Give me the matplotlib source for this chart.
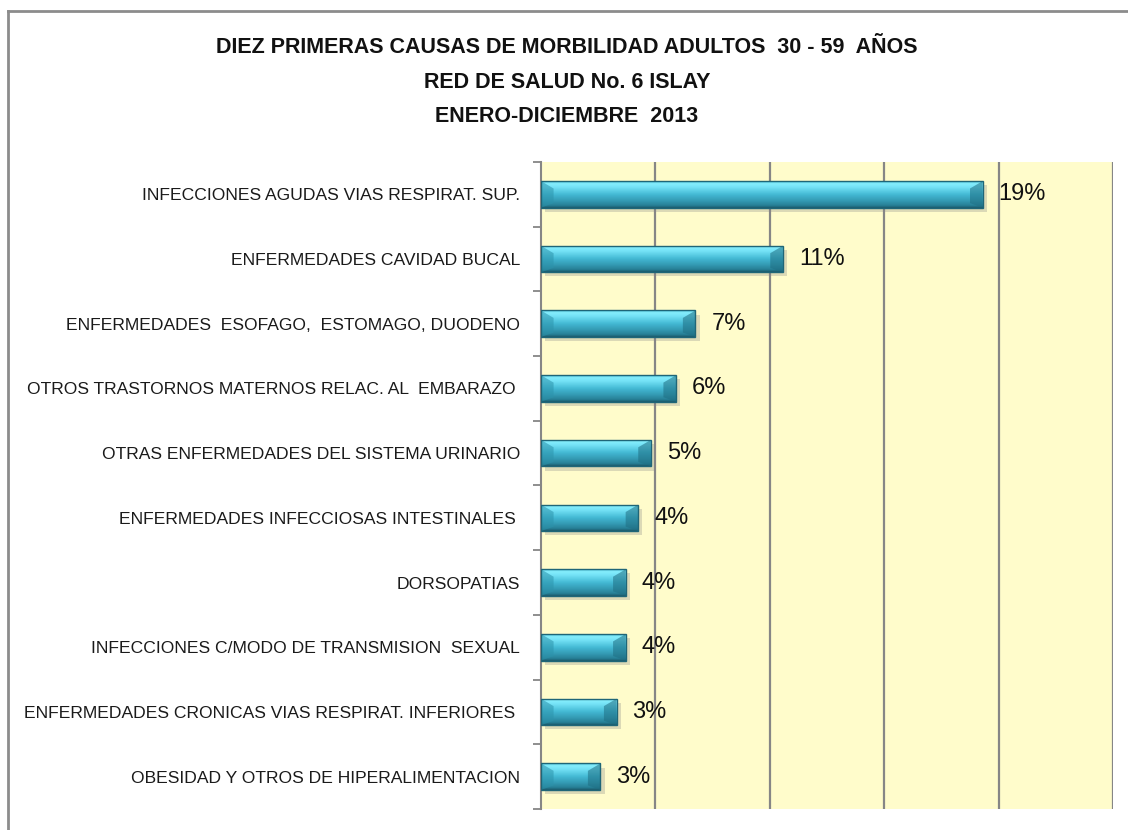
import numpy as np
import matplotlib
matplotlib.use('Agg')
import matplotlib.pyplot as plt
from matplotlib.patches import Rectangle, Polygon
from matplotlib.colors import LinearSegmentedColormap
import matplotlib.patheffects as pe

plt.rcParams['font.family'] = ['Liberation Sans', 'DejaVu Sans']

#==============================================================================
#                         Data
#==============================================================================
title = ('DIEZ PRIMERAS CAUSAS DE MORBILIDAD ADULTOS  30 - 59  AÑOS\n'
         'RED DE SALUD No. 6 ISLAY\n'
         'ENERO-DICIEMBRE  2013')

causas = ['INFECCIONES AGUDAS VIAS RESPIRAT. SUP.',
          'ENFERMEDADES CAVIDAD BUCAL',
          'ENFERMEDADES  ESOFAGO,  ESTOMAGO, DUODENO',
          'OTROS TRASTORNOS MATERNOS RELAC. AL  EMBARAZO ',
          'OTRAS ENFERMEDADES DEL SISTEMA URINARIO',
          'ENFERMEDADES INFECCIOSAS INTESTINALES ',
          'DORSOPATIAS',
          'INFECCIONES C/MODO DE TRANSMISION  SEXUAL',
          'ENFERMEDADES CRONICAS VIAS RESPIRAT. INFERIORES ',
          'OBESIDAD Y OTROS DE HIPERALIMENTACION']
porc = [0.193, 0.1057, 0.0675, 0.059, 0.048, 0.0425, 0.037, 0.037, 0.033, 0.026]

#==============================================================================
#                         Plotting
#==============================================================================
fig = plt.figure(figsize=(11.28, 8.3), dpi=100)
W, H = 1128., 830.
ax = fig.add_axes([541/W, 1 - 809/H, (1113 - 541)/W, (809 - 162)/H])
ax.set_facecolor('#fffccb')

n = len(causas)
ypos = np.arange(n)
ax.set_xlim(0, 0.25)
ax.set_ylim(n - 0.5, -0.5)

# grid
ax.set_xticks(np.arange(0.05, 0.251, 0.05))
ax.xaxis.grid(True, color='#868686', lw=1.6)
ax.set_axisbelow(True)
ax.tick_params(axis='x', length=0, labelbottom=False)

# category ticks between bars, labels at centres
ax.set_yticks(np.arange(-0.5, n, 1.0))
ax.set_yticklabels([])
ax.set_yticks(ypos, minor=True)
ax.set_yticklabels(causas, minor=True, fontsize=12.6, color='#1a1a1a')
ax.tick_params(axis='y', which='major', length=6, width=1.3, color='#868686')
ax.tick_params(axis='y', which='minor', length=0, pad=15)

for s in ['top', 'right', 'bottom']:
    ax.spines[s].set_visible(False)
ax.spines['left'].set_color('#868686')
ax.spines['left'].set_linewidth(1.5)

cmap = LinearSegmentedColormap.from_list('bar', [
    (0.0, '#4cc3dc'), (0.08, '#86eefd'), (0.22, '#74e2f6'),
    (0.5, '#43b9d4'), (0.75, '#3398b1'), (0.92, '#267e94'), (1.0, '#1b5869')])
grad = np.linspace(0, 1, 64).reshape(-1, 1)

bh = 0.41
dx = 0.0055
for y, v in zip(ypos, porc):
    top = y - bh/2
    bot = y + bh/2
    base = Rectangle((0, top), v, bh, facecolor='#3aa9c2', edgecolor='none', zorder=2,
                     path_effects=[pe.SimplePatchShadow(offset=(3, -3), shadow_rgbFace='#888888', alpha=0.3),
                                   pe.Normal()])
    ax.add_patch(base)
    im = ax.imshow(grad, cmap=cmap, aspect='auto', extent=(0, v, bot, top),
                   interpolation='bicubic', zorder=3)
    im.set_clip_path(base)
    # bevel ends
    dy = bh*0.28
    ax.add_patch(Polygon([(0, top), (dx, top + dy), (dx, bot - dy*0.6), (0, bot)],
                         closed=True, facecolor='#2c93ab', alpha=0.55, edgecolor='none', zorder=4))
    ax.add_patch(Polygon([(v, top), (v - dx, top + dy), (v - dx, bot - dy*0.6), (v, bot)],
                         closed=True, facecolor='#1f6e82', alpha=0.55, edgecolor='none', zorder=4))
    ax.add_patch(Rectangle((0, top), v, bh, facecolor='none', edgecolor='#1f6678', lw=1.0, zorder=5))
    ax.text(v + 0.007, y, '%d%%' % round(v*100), va='center', ha='left', fontsize=17,
            color='#111111', zorder=6)

fig.text(567/W, 1 - 82/H, title, ha='center', va='center', fontsize=15.5, fontweight='bold',
         linespacing=1.85, color='#111111')

# outer chart frame
fig.add_artist(plt.Line2D([8/W, 8/W], [0, 1 - 11/H], transform=fig.transFigure, color='#8c8c8c', lw=2))
fig.add_artist(plt.Line2D([8/W, 1], [1 - 11/H, 1 - 11/H], transform=fig.transFigure, color='#8c8c8c', lw=2))

fig.savefig('out.png', dpi=100)
